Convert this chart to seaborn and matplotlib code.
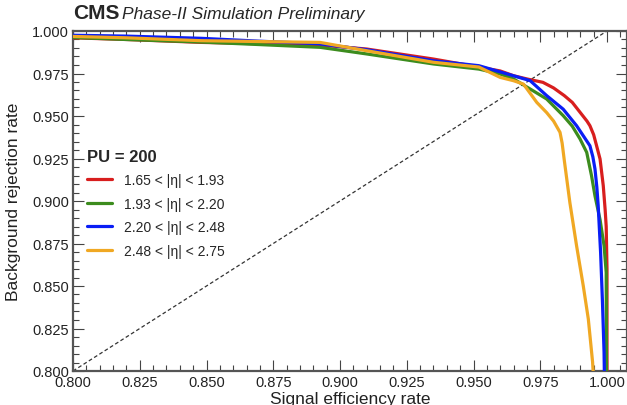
import matplotlib
matplotlib.use("Agg")
import matplotlib.pyplot as plt
from matplotlib.ticker import MultipleLocator, FormatStrFormatter
import seaborn as sns
import pandas as pd

labels = ["1.65 < |\u03b7| < 1.93", "1.93 < |\u03b7| < 2.20",
          "2.20 < |\u03b7| < 2.48", "2.48 < |\u03b7| < 2.75"]
colors = ["#d81e1e", "#3c8c1e", "#0a1ef5", "#f0a823"]

red_x = [0.800, 0.820, 0.848, 0.870, 0.892, 0.910, 0.935, 0.952, 0.960, 0.965, 0.970, 0.976,
         0.980, 0.984, 0.987, 0.990, 0.9925, 0.9936, 0.9950, 0.9961, 0.9974, 0.9986, 0.9993,
         0.9997, 1.0000, 1.0000]
red_y = [0.9960, 0.9950, 0.9933, 0.9925, 0.9918, 0.9894, 0.9835, 0.9788, 0.9765, 0.9737, 0.9718,
         0.9698, 0.9665, 0.9620, 0.9580, 0.9520, 0.9470, 0.9443, 0.9390, 0.9325, 0.9247, 0.9090,
         0.8950, 0.8850, 0.8600, 0.8000]

green_x = [0.800, 0.820, 0.848, 0.870, 0.8925, 0.910, 0.935, 0.952, 0.960, 0.965, 0.9712, 0.9774,
           0.9836, 0.9870, 0.9899, 0.9924, 0.9942, 0.9955, 0.9974, 0.9989, 0.9997, 0.9998]
green_y = [0.9962, 0.9950, 0.9935, 0.9920, 0.9904, 0.9865, 0.9806, 0.9776, 0.9747, 0.9718, 0.9659,
           0.9600, 0.9502, 0.9440, 0.9365, 0.9286, 0.9149, 0.9030, 0.8890, 0.8737, 0.8580, 0.8000]

blue_x = [0.800, 0.820, 0.848, 0.870, 0.892, 0.910, 0.935, 0.952, 0.9649, 0.9712, 0.9774, 0.9836,
          0.9886, 0.9936, 0.9947, 0.9955, 0.9962, 0.9967, 0.9976, 0.9983, 0.9989, 0.9990]
blue_y = [0.9975, 0.9970, 0.9957, 0.9940, 0.9925, 0.9890, 0.9825, 0.9796, 0.9737, 0.9708, 0.9620,
          0.9540, 0.9443, 0.9325, 0.9260, 0.9188, 0.9080, 0.8973, 0.8698, 0.8406, 0.8110, 0.8000]

orange_x = [0.800, 0.820, 0.848, 0.870, 0.8925, 0.910, 0.935, 0.952, 0.960, 0.9649, 0.9687, 0.9737,
            0.9774, 0.9800, 0.9824, 0.9832, 0.9840, 0.9861, 0.9886, 0.9911, 0.9930, 0.9946, 0.9948]
orange_y = [0.9968, 0.9960, 0.9943, 0.9938, 0.9933, 0.9884, 0.9816, 0.9788, 0.9727, 0.9708, 0.9688,
            0.9580, 0.9520, 0.9470, 0.9404, 0.9340, 0.9240, 0.8990, 0.8737, 0.8502, 0.8306, 0.8053,
            0.8000]

xticks = [0.800, 0.825, 0.850, 0.875, 0.900, 0.925, 0.950, 0.975, 1.000]
yticks = [0.800, 0.825, 0.850, 0.875, 0.900, 0.925, 0.950, 0.975, 1.000]

frames = []
for lab, xs, ys in zip(labels, [red_x, green_x, blue_x, orange_x], [red_y, green_y, blue_y, orange_y]):
    frames.append(pd.DataFrame({"x": xs, "y": ys, "region": lab, "order": range(len(xs))}))
df = pd.concat(frames, ignore_index=True)

sns.set_theme(style="ticks")
plt.rcParams['font.family'] = ['Liberation Sans', 'DejaVu Sans']

fig = plt.figure(figsize=(6.27, 4.06), dpi=100)
ax = fig.add_axes([73 / 627, 34 / 406, 1 - 73 / 627, 340 / 406])

ax.plot([0.8, 1.0], [0.8, 1.0], color="#333333", lw=0.9, ls=(0, (3, 2)), zorder=1)

sns.lineplot(data=df, x="x", y="y", hue="region", palette=colors, hue_order=labels,
             sort=False, estimator=None, units="region", lw=2.3, ax=ax, legend=False, zorder=3)

ax.set_xlim(0.8, 0.8 + 554 / 2670)
ax.set_ylim(0.8, 1.0)
ax.set_xticks(xticks)
ax.set_yticks(yticks)
ax.xaxis.set_major_formatter(FormatStrFormatter("%.3f"))
ax.yaxis.set_major_formatter(FormatStrFormatter("%.3f"))
ax.xaxis.set_minor_locator(MultipleLocator(0.005))
ax.yaxis.set_minor_locator(MultipleLocator(0.005))
ax.tick_params(which="both", direction="in", top=True, right=True, labelsize=10.5,
               color="#444444", labelcolor="#222222", pad=3)
ax.tick_params(which="major", length=8, width=0.8)
ax.tick_params(which="minor", length=4, width=0.8)
for s in ax.spines.values():
    s.set_color("#555555")
    s.set_linewidth(1.6)

ax.set_xlabel("Signal efficiency rate", fontsize=12.5, labelpad=1, color="#222222")
ax.set_ylabel("Background rejection rate", fontsize=12.5, labelpad=8, color="#222222")

handles = [plt.Line2D([], [], color=c, lw=2.3) for c in colors]
leg = ax.legend(handles, labels, loc="upper left", bbox_to_anchor=(0.002, 0.69), frameon=False,
                title="PU = 200", title_fontproperties={"weight": "bold", "size": 12},
                alignment="left", fontsize=10, handlelength=1.8, handletextpad=0.9,
                labelspacing=0.68)

fig.text(73 / 627, 1 - 19 / 406, "CMS", fontsize=15, fontweight="bold", va="baseline", ha="left")
fig.text(122 / 627, 1 - 19 / 406, "Phase-II Simulation Preliminary", fontsize=12.5,
         style="italic", va="baseline", ha="left")

fig.savefig("out.png", dpi=100)
